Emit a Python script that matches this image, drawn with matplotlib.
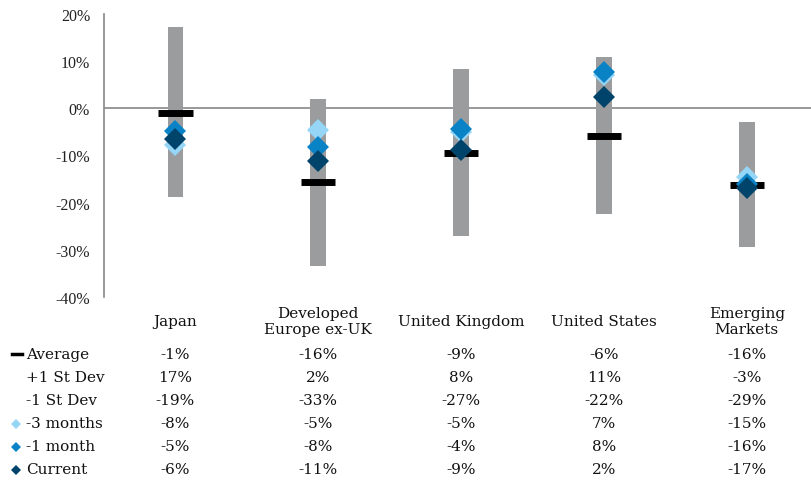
import matplotlib.pyplot as plt
import matplotlib.transforms as mtransforms
from matplotlib.lines import Line2D
import numpy as np

regions = ['Japan', 'Developed\nEurope ex-UK', 'United Kingdom', 'United States', 'Emerging\nMarkets']
average = [-0.9, -15.7, -9.4, -5.8, -16.2]
plus_sd = [17.3, 2.0, 8.3, 10.9, -2.8]
minus_sd = [-18.9, -33.4, -27.1, -22.4, -29.3]
three_months = [-7.8, -4.6, -5.0, 7.0, -14.6]
one_month = [-4.9, -8.3, -4.4, 7.6, -16.0]
current = [-6.4, -11.1, -8.8, 2.4, -16.8]

row_labels = ['Average', '+1 St Dev', '-1 St Dev', '-3 months', '-1 month', 'Current']
rows = [average, plus_sd, minus_sd, three_months, one_month, current]

grey = '#9b9c9d'
light = '#95d6f7'
mid = '#0a82c6'
dark = '#00436b'

W, H = 811, 481
fig = plt.figure(figsize=(W / 100, H / 100), dpi=100)
ax = fig.add_axes([104 / W, 1 - 298 / H, 1 - 104 / W, (298 - 15) / H])

x = np.arange(len(regions))
ax.bar(x, np.array(plus_sd) - np.array(minus_sd), bottom=minus_sd, width=0.11,
       color=grey, zorder=2)
ax.axhline(0, color='#888888', lw=1.2, zorder=1)
ax.hlines(average, x - 0.12, x + 0.12, color='black', lw=5, zorder=3)
ax.plot(x, three_months, ls='none', marker='D', ms=11, color=light, mew=0, zorder=4)
ax.plot(x, one_month, ls='none', marker='D', ms=11, color=mid, mew=0, zorder=5)
ax.plot(x, current, ls='none', marker='D', ms=11, color=dark, mew=0, zorder=6)

ax.set_xlim(-0.5, 4.45)
ax.set_ylim(-40, 20)
ax.set_yticks(np.arange(-40, 21, 10))
ax.set_yticklabels([f'{v}%' for v in range(-40, 21, 10)],
                   fontfamily='Liberation Serif', fontsize=11.5, color='#222222')
ax.tick_params(axis='y', length=0, pad=10)
ax.set_xticks([])
for s in ['top', 'right', 'bottom']:
    ax.spines[s].set_visible(False)
ax.spines['left'].set_color('#888888')
ax.spines['left'].set_linewidth(1.2)

# table under the chart
trans = mtransforms.blended_transform_factory(ax.transData, fig.transFigure)
tfont = dict(fontfamily='DejaVu Serif', fontsize=11, color='#111111')
for i, name in enumerate(regions):
    ax.text(i, 1 - 322 / H, name, transform=trans, ha='center', va='center',
            linespacing=1.1, **tfont)

row_y = [355, 378, 401, 424.5, 447.5, 470.5]
for label, vals, yy in zip(row_labels, rows, row_y):
    fy = 1 - yy / H
    fig.text(26 / W, fy, label, ha='left', va='center', **tfont)
    for i, v in enumerate(vals):
        ax.text(i, fy, f'{v:.0f}%', transform=trans, ha='center', va='center', **tfont)

# legend keys
fig.add_artist(Line2D([12 / W, 22 / W], [1 - 355 / H] * 2, color='black', lw=2.5,
                      transform=fig.transFigure))
for c, yy in zip([light, mid, dark], row_y[3:]):
    fig.add_artist(Line2D([16 / W], [1 - yy / H], marker='D', ms=5.5, color=c, mew=0,
                          transform=fig.transFigure))

fig.savefig('out.png', dpi=100)
